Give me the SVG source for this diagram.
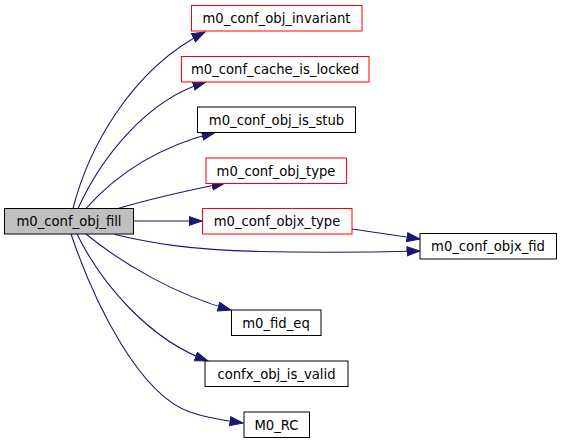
<svg xmlns="http://www.w3.org/2000/svg" width="561" height="443" viewBox="0 0 561 443">
<style>
.n rect{fill:#fff;stroke:#000;stroke-width:1}
.n.r rect{stroke:#ff0000}
.n.s rect{fill:#bfbfbf}
.n text{font-family:"DejaVu Sans",sans-serif;font-size:13.2px;text-anchor:middle;fill:#000}
.e path{fill:none;stroke:#191970;stroke-width:1.1;marker-end:url(#a)}
</style>
<defs>
<marker id="a" markerUnits="userSpaceOnUse" markerWidth="15" markerHeight="11" refX="13.5" refY="5" orient="auto" viewBox="0 0 15 11">
<path d="M0.5,0.5 L13.5,5 L0.5,9.5 z" fill="#191970" stroke="#191970" stroke-width="1"/>
</marker>
</defs>
<rect width="561" height="443" fill="#fff"/>
<g id="edges" class="e">
<path d="M73,208.5 C88,150 130,70 205,32"/>
<path d="M78,208.5 C100,160 145,100 206,82"/>
<path d="M86,208.5 C120,170 165,145 215,132.5"/>
<path d="M118,208.5 C150,199 190,190 225,183"/>
<path d="M133.5,221 L202,221"/>
<path d="M352,229 L420,239"/>
<path d="M115,234.5 C150,243 190,250 260,251.5 C330,253 380,252 420,251"/>
<path d="M86,234 C120,262 175,295 231,310"/>
<path d="M77,234 C102,285 150,340 208,361"/>
<path d="M71,234 C95,305 140,395 190,412 C210,419 228,421 243,423"/>
</g>
<g id="n_fill" class="n s"><rect x="4.5" y="208.5" width="129" height="25.5"/><text x="69" y="226">m0_conf_obj_fill</text></g>
<g id="n_invariant" class="n r"><rect x="191.5" y="5.5" width="170.5" height="25.5"/><text x="276.5" y="23">m0_conf_obj_invariant</text></g>
<g id="n_cache" class="n r"><rect x="181.5" y="56.5" width="187.5" height="25.5"/><text x="275" y="74">m0_conf_cache_is_locked</text></g>
<g id="n_stub" class="n"><rect x="197.5" y="107" width="158" height="25.5"/><text x="276.5" y="124.5">m0_conf_obj_is_stub</text></g>
<g id="n_type" class="n r"><rect x="206" y="158" width="140.5" height="25.5"/><text x="276" y="175.5">m0_conf_obj_type</text></g>
<g id="n_objx_type" class="n r"><rect x="202.5" y="208.5" width="149.5" height="25.5"/><text x="277" y="226">m0_conf_objx_type</text></g>
<g id="n_fid" class="n"><rect x="420" y="233.5" width="136.5" height="25.5"/><text x="488" y="251">m0_conf_objx_fid</text></g>
<g id="n_fid_eq" class="n"><rect x="231.5" y="310" width="89.5" height="25.5"/><text x="276" y="327.5">m0_fid_eq</text></g>
<g id="n_valid" class="n"><rect x="205" y="361" width="143" height="25.5"/><text x="276.5" y="378.5">confx_obj_is_valid</text></g>
<g id="n_rc" class="n"><rect x="244" y="412" width="65.5" height="25.5"/><text x="276.5" y="429.5">M0_RC</text></g>
</svg>
